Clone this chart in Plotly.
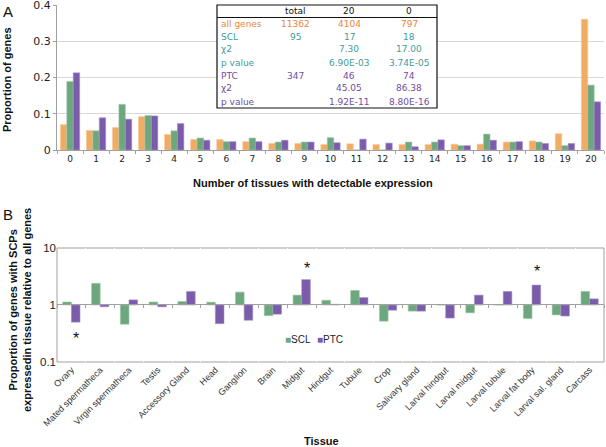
import math
import plotly.graph_objects as go

# ---------------- Panel A data ----------------
tissue_counts = [str(i) for i in range(21)]
all_genes = [0.070, 0.054, 0.062, 0.092, 0.043, 0.029, 0.029, 0.023, 0.018, 0.018,
             0.015, 0.017, 0.015, 0.015, 0.015, 0.016, 0.016, 0.022, 0.025, 0.045, 0.361]
scl_a = [0.189, 0.053, 0.126, 0.095, 0.053, 0.033, 0.023, 0.033, 0.022, 0.022,
         0.034, 0.0, 0.0, 0.022, 0.022, 0.012, 0.044, 0.022, 0.022, 0.012, 0.179]
ptc_a = [0.213, 0.089, 0.085, 0.094, 0.073, 0.027, 0.023, 0.023, 0.027, 0.022,
         0.020, 0.030, 0.019, 0.009, 0.028, 0.012, 0.027, 0.023, 0.018, 0.018, 0.133]
a_ticks = [0, 0.1, 0.2, 0.3, 0.4]
a_ticktext = ["0", "0.1", "0.2", "0.3", "0.4"]

# table
table_rows = ["all genes", "SCL", "χ2", "p value", "PTC", "χ2", "p value"]
table_total = ["11362", "95", "", "", "347", "", ""]
table_20 = ["4104", "17", "7.30", "6.90E-03", "46", "45.05", "1.92E-11"]
table_0 = ["797", "18", "17.00", "3.74E-05", "74", "86.38", "8.80E-16"]
table_header = ["total", "20", "0"]

# ---------------- Panel B data ----------------
tissues = ["Ovary", "Mated spermatheca", "Virgin spermatheca", "Testis", "Accessory Gland",
           "Head", "Ganglion", "Brain", "Midgut", "Hindgut", "Tubule", "Crop",
           "Salivary gland", "Larval hindgut", "Larval midgut", "Larval tubule",
           "Larval fat body", "Larval sal. gland", "Carcass"]
scl_b = [1.13, 2.40, 0.46, 1.13, 1.15, 1.12, 1.68, 0.65, 1.49, 1.21, 1.80, 0.52,
         0.78, 1.0, 0.73, 1.0, 0.58, 0.67, 1.73]
ptc_b = [0.50, 0.93, 1.23, 0.93, 1.73, 0.47, 0.54, 0.69, 2.79, 1.03, 1.35, 0.81,
         0.78, 0.59, 1.49, 1.73, 2.24, 0.64, 1.28]
b_ticks = [0.1, 1, 10]
b_ticktext = ["0.1", "1", "10"]
star_tissues = ["Ovary", "Midgut", "Larval fat body"]
star_values = [0.26, 4.3, 3.9]
legend_names = ["SCL", "PTC"]

ORANGE = "#F0AC64"
GREEN = "#6DA77E"
PURPLE = "#7B5CAA"
T_ORANGE = "#E8843E"
T_TEAL = "#3F9C99"
T_PURPLE = "#6D4E9F"
AXIS = "#A0A0A0"

W, H = 606, 447
def py(p):  # pixel y -> paper
    return 1 - p / H
def px(p):
    return p / W

fig = go.Figure()

fig.add_trace(go.Bar(x=tissue_counts, y=all_genes, marker_color=ORANGE, name="all genes",
                     xaxis="x", yaxis="y", showlegend=False,
                     marker_line=dict(width=0.6, color="#F6C894")))
fig.add_trace(go.Bar(x=tissue_counts, y=scl_a, marker_color=GREEN, name="SCL",
                     xaxis="x", yaxis="y", showlegend=False,
                     marker_line=dict(width=0.6, color="#9CC6A6")))
fig.add_trace(go.Bar(x=tissue_counts, y=ptc_a, marker_color=PURPLE, name="PTC",
                     xaxis="x", yaxis="y", showlegend=False,
                     marker_line=dict(width=0.6, color="#A590C8")))

fig.add_trace(go.Bar(x=tissues, y=[v - 1 for v in scl_b], base=1, marker_color=GREEN,
                     name="SCL", xaxis="x2", yaxis="y2", width=0.3, offset=-0.3,
                     showlegend=False, marker_line=dict(width=0.6, color="#9CC6A6")))
fig.add_trace(go.Bar(x=tissues, y=[v - 1 for v in ptc_b], base=1, marker_color=PURPLE,
                     name="PTC", xaxis="x2", yaxis="y2", width=0.3, offset=0.0,
                     showlegend=False, marker_line=dict(width=0.6, color="#A590C8")))
# invisible trace so the tick axis at y=1 is drawn
fig.add_trace(go.Scatter(x=tissues, y=[1] * len(tissues), xaxis="x3", yaxis="y2",
                         mode="markers", marker=dict(opacity=0), showlegend=False,
                         hoverinfo="skip"))

xtick_font = dict(family="DejaVu Sans, Verdana, sans-serif", size=9, color="#222")
ytick_font_a = dict(family="DejaVu Sans, Verdana, sans-serif", size=11, color="#222")
ytick_font_b = dict(family="Liberation Sans, Arial, sans-serif", size=11.5, color="#222")
title_font = dict(family="Liberation Sans, Arial, sans-serif", size=11, color="#111")

xdom = [px(57), px(604)]
fig.update_layout(
    width=W, height=H,
    margin=dict(l=0, r=0, t=0, b=0, autoexpand=False),
    paper_bgcolor="white", plot_bgcolor="white",
    barmode="group",
    bargap=0.26, bargroupgap=0.0,
    showlegend=False,
    xaxis=dict(domain=xdom, anchor="y", showline=True, linecolor=AXIS, linewidth=1,
               ticks="outside", tickson="boundaries", ticklen=3, tickcolor=AXIS,
               tickfont=xtick_font, showgrid=False, type="category", automargin=False),
    yaxis=dict(domain=[py(150), py(5)], anchor="x", range=[0, 0.4002], tickvals=a_ticks,
               ticktext=a_ticktext, automargin=False, ticklabeloverflow="allow",
               showline=True, linecolor=AXIS, ticks="outside", ticklen=3, tickcolor=AXIS,
               showgrid=True, gridcolor="#D8D8D8", tickfont=ytick_font_a, zeroline=False),
    xaxis2=dict(domain=xdom, anchor="y2", showline=False, ticks="", tickangle=-45,
                tickfont=dict(family="Liberation Sans, Arial, sans-serif", size=9, color="#333"),
                showgrid=False, type="category", automargin=False, range=[-0.5, 18.5],
                ticklabeloverflow="allow"),
    yaxis2=dict(domain=[py(362), py(248)], anchor="x2", type="log", range=[-1.0005, 1.0005],
                tickvals=b_ticks, ticktext=b_ticktext, automargin=False,
                showline=False, ticks="", showgrid=False, zeroline=False,
                tickfont=ytick_font_b),
    xaxis3=dict(domain=xdom, overlaying="x2", anchor="free", position=py(304),
                showline=True, linecolor=AXIS, ticks="outside", tickson="boundaries",
                ticklen=3, tickcolor=AXIS, showticklabels=False, type="category",
                categoryorder="array", categoryarray=tissues, range=[-0.5, 18.5],
                automargin=False),
)

# Panel B plot box
fig.add_shape(type="rect", xref="paper", yref="paper", x0=px(57), x1=px(604),
              y0=py(362), y1=py(248), line=dict(color=AXIS, width=1), layer="below")

ann = []
def paper_text(text, x, y, font, xanchor="center", yanchor="middle", **kw):
    ann.append(dict(text=text, x=px(x), y=py(y), xref="paper", yref="paper",
                    xanchor=xanchor, yanchor=yanchor, showarrow=False, font=font, **kw))

letter_font = dict(family="Liberation Sans, Arial", size=15, color="#111")
paper_text("A", 1, 1, letter_font, xanchor="left", yanchor="top")
paper_text("B", 1, 204, letter_font, xanchor="left", yanchor="top")
paper_text("<b>Proportion of genes</b>", 7, 80, title_font, textangle=-90)
paper_text("<b>Number of tissues with detectable expression</b>", 313, 183, title_font)
paper_text("<b>Proportion of genes with SCPs<br>expressedin tissue relative to all genes</b>",
           20, 310, title_font, textangle=-90)
paper_text("<b>Tissue</b>", 321, 441, title_font)

for t, v in zip(star_tissues, star_values):
    ann.append(dict(text="*", x=t, y=math.log10(v), xref="x2", yref="y2",
                    xanchor="center", yanchor="middle",
                    xshift=5, showarrow=False,
                    font=dict(family="Liberation Sans, Arial", size=16, color="#111")))

# manual legend for panel B
for name, col, lx in zip(legend_names, [GREEN, PURPLE], [283, 315]):
    paper_text(f"<span style='color:{col}'>■</span>{name}", lx, 339,
               dict(family="Liberation Sans, Arial, sans-serif", size=10, color="#222"),
               xanchor="left")

# table
tbl_font = dict(family="DejaVu Sans, Verdana, sans-serif", size=9)
fig.add_shape(type="rect", xref="paper", yref="paper", x0=px(217), x1=px(437),
              y0=py(108), y1=py(5), line=dict(color="#111", width=1.2),
              fillcolor="white", layer="above")
fig.add_shape(type="line", xref="paper", yref="paper", x0=px(217), x1=px(437),
              y0=py(17.5), y1=py(17.5), line=dict(color="#111", width=1.2))
col_x = [295, 349, 409]
for cx, h in zip(col_x, table_header):
    paper_text(h, cx, 11, dict(**tbl_font, color="#111"))
row_y = [24, 37, 49, 63, 76, 88, 102]
row_colors = [T_ORANGE, T_TEAL, T_TEAL, T_TEAL, T_PURPLE, T_PURPLE, T_PURPLE]
for i in range(len(table_rows)):
    c = row_colors[i]
    paper_text(table_rows[i], 219, row_y[i], dict(**tbl_font, color=c), xanchor="left")
    for cx, vals in zip(col_x, [table_total, table_20, table_0]):
        if vals[i]:
            paper_text(vals[i], cx, row_y[i], dict(**tbl_font, color=c))

fig.update_layout(annotations=ann)
fig.write_html("out.html", config={"displayModeBar": False},
               post_script="document.body.style.margin='0';document.body.style.overflow='hidden';")
